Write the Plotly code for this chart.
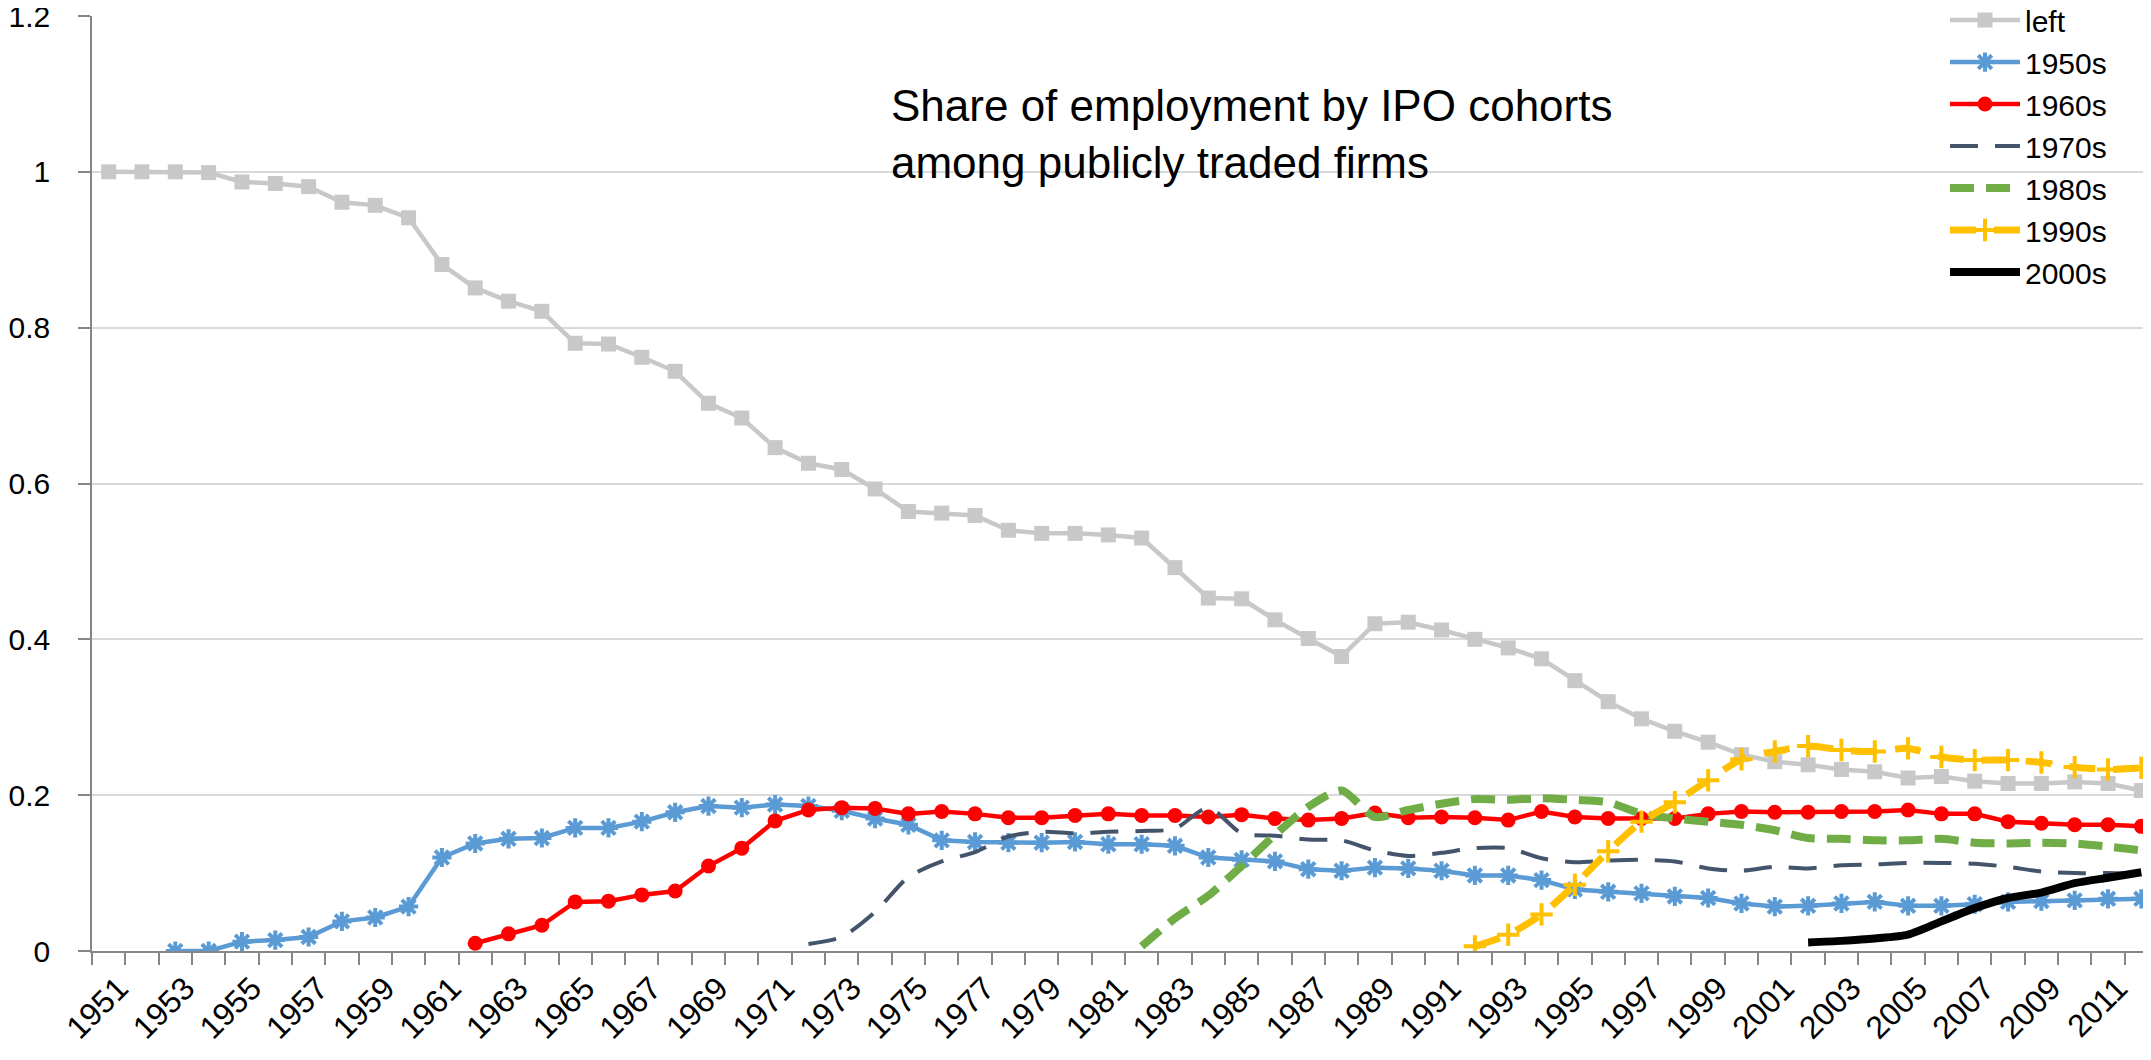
import plotly.graph_objects as go

years = list(range(1951, 2013))

left = [1.000, 1.000, 1.000, 0.999, 0.987, 0.985, 0.981, 0.961, 0.957, 0.941,
        0.881, 0.851, 0.834, 0.821, 0.780, 0.779, 0.762, 0.744, 0.703, 0.684,
        0.646, 0.626, 0.618, 0.593, 0.564, 0.562, 0.559, 0.540, 0.536, 0.536,
        0.534, 0.530, 0.492, 0.453, 0.452, 0.425, 0.401, 0.378, 0.420, 0.422,
        0.412, 0.400, 0.389, 0.375, 0.347, 0.320, 0.298, 0.282, 0.268, 0.252,
        0.243, 0.239, 0.233, 0.230, 0.222, 0.224, 0.218, 0.215, 0.215, 0.217,
        0.215, 0.206]

c1950s = [None, None, 0.000, 0.000, 0.012, 0.014, 0.018, 0.038, 0.043, 0.057,
          0.120, 0.138, 0.144, 0.145, 0.158, 0.158, 0.166, 0.178, 0.186, 0.184,
          0.188, 0.186, 0.180, 0.170, 0.162, 0.142, 0.140, 0.139, 0.139, 0.140,
          0.137, 0.137, 0.135, 0.120, 0.117, 0.115, 0.105, 0.103, 0.107, 0.106,
          0.103, 0.097, 0.097, 0.091, 0.079, 0.076, 0.074, 0.070, 0.068, 0.061,
          0.057, 0.058, 0.061, 0.063, 0.058, 0.058, 0.060, 0.063, 0.064, 0.065,
          0.067, 0.067]

c1960s = [None] * 11 + [
          0.010, 0.022, 0.033, 0.063, 0.064, 0.072, 0.077, 0.109, 0.132,
          0.167, 0.181, 0.184, 0.183, 0.176, 0.179, 0.176, 0.171, 0.171, 0.174,
          0.176, 0.174, 0.174, 0.172, 0.175, 0.170, 0.168, 0.170, 0.177, 0.171,
          0.172, 0.171, 0.168, 0.179, 0.172, 0.170, 0.170, 0.170, 0.176, 0.179,
          0.178, 0.178, 0.179, 0.179, 0.181, 0.176, 0.176, 0.166, 0.164, 0.162,
          0.162, 0.160]

c1970s = [None] * 21 + [
          0.009, 0.018, 0.050, 0.095, 0.115, 0.127, 0.147, 0.153, 0.151,
          0.153, 0.154, 0.157, 0.184, 0.151, 0.148, 0.143, 0.142, 0.129, 0.122,
          0.126, 0.132, 0.132, 0.119, 0.114, 0.116, 0.117, 0.115, 0.106, 0.103,
          0.108, 0.106, 0.110, 0.111, 0.113, 0.113, 0.112, 0.108, 0.102, 0.100,
          0.100, 0.099]

c1980s = [None] * 31 + [
          0.006, 0.042, 0.071, 0.109, 0.149, 0.185, 0.206, 0.172, 0.181,
          0.189, 0.195, 0.194, 0.196, 0.194, 0.191, 0.176, 0.170, 0.166, 0.162,
          0.155, 0.145, 0.144, 0.142, 0.142, 0.144, 0.139, 0.138, 0.139, 0.138,
          0.134, 0.129]

c1990s = [None] * 41 + [
          0.006, 0.021, 0.047, 0.085, 0.128, 0.166, 0.191, 0.219, 0.246,
          0.256, 0.263, 0.258, 0.256, 0.260, 0.249, 0.245, 0.245, 0.242, 0.236,
          0.233, 0.235]

c2000s = [None] * 51 + [
          0.011, 0.013, 0.016, 0.021, 0.038, 0.055, 0.068, 0.075, 0.087,
          0.094, 0.101]

tick_years = list(range(1951, 2013, 2))
tick_labels = [str(y) for y in tick_years]

FONT = "Liberation Sans, Arial, sans-serif"

fig = go.Figure()
fig.add_trace(go.Scatter(x=years, y=left, name="left", mode="lines+markers",
                         line=dict(color="#C8C8C8", width=4.5),
                         marker=dict(symbol="square", size=15, color="#C8C8C8")))
fig.add_trace(go.Scatter(x=years, y=c1950s, name="1950s", mode="lines+markers",
                         line=dict(color="#5B9BD5", width=4.5),
                         marker=dict(symbol="asterisk-open", size=16,
                                     line=dict(color="#5B9BD5", width=4))))
fig.add_trace(go.Scatter(x=years, y=c1960s, name="1960s", mode="lines+markers",
                         line=dict(color="#FF0000", width=4.5),
                         marker=dict(symbol="circle", size=15, color="#FF0000")))
fig.add_trace(go.Scatter(x=years, y=c1970s, name="1970s", mode="lines",
                         line=dict(color="#44546A", width=4, dash="28px,17px",
                                   shape="spline", smoothing=0.7)))
fig.add_trace(go.Scatter(x=years, y=c1980s, name="1980s", mode="lines",
                         line=dict(color="#70AD47", width=8, dash="24px,12px",
                                   shape="spline", smoothing=0.7)))
fig.add_trace(go.Scatter(x=years, y=c1990s, name="1990s", mode="lines+markers",
                         line=dict(color="#FFC000", width=7, dash="26px,18px",
                                   shape="spline", smoothing=0.7),
                         marker=dict(symbol="cross-thin-open", size=16,
                                     line=dict(color="#FFC000", width=4))))
fig.add_trace(go.Scatter(x=years, y=c2000s, name="2000s", mode="lines",
                         line=dict(color="#000000", width=8,
                                   shape="spline", smoothing=0.7)))

fig.add_annotation(text="Share of employment by IPO cohorts<br>among publicly traded firms",
                   xref="paper", yref="paper", x=0.3858, y=0.874,
                   xanchor="left", yanchor="middle", align="left", showarrow=False,
                   font=dict(family=FONT, size=44, color="#000000"))

fig.update_layout(
    width=2151, height=1060,
    margin=dict(l=84, r=1, t=8, b=117, pad=0, autoexpand=False),
    paper_bgcolor="white", plot_bgcolor="white",
    font=dict(family=FONT, size=30, color="#000000"),
    showlegend=True,
    legend=dict(x=0.8969, y=1.0235, xanchor="left", yanchor="top",
                bgcolor="rgba(255,255,255,0)", borderwidth=0,
                font=dict(family=FONT, size=30, color="#000000"),
                tracegroupgap=0, itemwidth=70),
    xaxis=dict(range=[1950.5, 2012.5], tickmode="array", tickvals=tick_years,
               ticktext=tick_labels, tickangle=-45, ticks="", showgrid=False,
               showline=True, linecolor="#868686", linewidth=1.5, zeroline=False,
               ticklabelstandoff=4, ticklabelshift=10, automargin=False,
               ticklabeloverflow="allow",
               tickfont=dict(family=FONT, size=32, color="#000000"),
               minor=dict(tick0=1950.5, dtick=1, ticks="outside", ticklen=12,
                          tickcolor="#868686", tickwidth=1.5, showgrid=False)),
    yaxis=dict(range=[0, 1.2], dtick=0.2, tick0=0, showgrid=True,
               gridcolor="#D9D9D9", gridwidth=2, zeroline=False,
               showline=True, linecolor="#868686", linewidth=1.5,
               ticks="outside", ticklen=12, tickcolor="#868686", tickwidth=1.5,
               ticklabelstandoff=22, automargin=False, ticklabeloverflow="allow",
               tickfont=dict(family=FONT, size=30, color="#000000")),
)

fig.write_html("out.html")
